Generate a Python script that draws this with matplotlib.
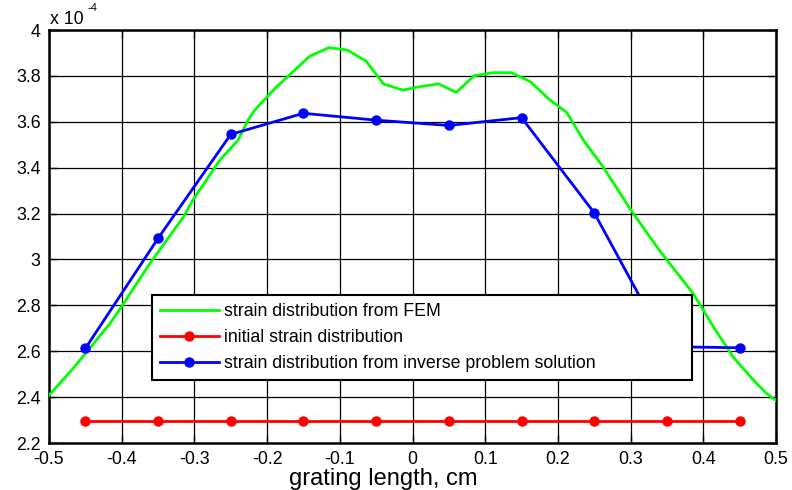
import numpy as np
import matplotlib
matplotlib.use("Agg")
import matplotlib.pyplot as plt
from matplotlib.ticker import FuncFormatter

plt.rcParams['font.family'] = ['Liberation Sans', 'DejaVu Sans']

SCALE = 1e-4

# FEM strain distribution (green)
fem_x = [-0.500, -0.469, -0.448, -0.416, -0.402, -0.361, -0.315, -0.302, -0.265, -0.240,
         -0.226, -0.217, -0.189, -0.141, -0.115, -0.090, -0.064, -0.040, -0.013, 0.010,
         0.036, 0.060, 0.085, 0.111, 0.136, 0.162, 0.189, 0.212, 0.235, 0.262,
         0.299, 0.336, 0.361, 0.386, 0.414, 0.441, 0.469, 0.487, 0.500]
fem_y = [2.408, 2.517, 2.597, 2.721, 2.786, 2.983, 3.186, 3.259, 3.433, 3.520,
         3.608, 3.651, 3.746, 3.887, 3.923, 3.913, 3.865, 3.765, 3.738, 3.753,
         3.765, 3.728, 3.801, 3.814, 3.814, 3.775, 3.695, 3.641, 3.520, 3.404,
         3.222, 3.055, 2.953, 2.852, 2.706, 2.575, 2.474, 2.416, 2.385]

# node positions
node_x = [-0.45, -0.35, -0.25, -0.15, -0.05, 0.05, 0.15, 0.25, 0.35, 0.45]
# initial strain distribution (red)
init_y = [2.295] * 10
# inverse problem solution (blue)
inv_y = [2.612, 3.092, 3.545, 3.637, 3.607, 3.584, 3.618, 3.203, 2.620, 2.615]

legend_labels = ["strain distribution from FEM",
                 "initial strain distribution",
                 "strain distribution from inverse problem solution"]

xticks = [-0.5, -0.4, -0.3, -0.2, -0.1, 0, 0.1, 0.2, 0.3, 0.4, 0.5]
yticks = [2.2, 2.4, 2.6, 2.8, 3.0, 3.2, 3.4, 3.6, 3.8, 4.0]

fig = plt.figure(figsize=(7.92, 4.90), dpi=100)
ax = fig.add_axes([49/792, 1-443/490, 727/792, 413/490])

ax.plot(fem_x, np.array(fem_y) * SCALE, color='#00ff00', lw=2, label=legend_labels[0], zorder=3)
ax.plot(node_x, np.array(init_y) * SCALE, color='#ff0000', lw=2, marker='o', ms=6.5,
        label=legend_labels[1], zorder=3)
ax.plot(node_x, np.array(inv_y) * SCALE, color='#0000ff', lw=2, marker='o', ms=6.5,
        label=legend_labels[2], zorder=3)

ax.set_xlim(-0.5, 0.5)
ax.set_ylim(2.2 * SCALE, 4.0 * SCALE)
ax.set_xticks(xticks)
ax.set_yticks(np.array(yticks) * SCALE)
ax.xaxis.set_major_formatter(FuncFormatter(lambda v, p: ('%g' % round(v, 3)) if abs(v) > 1e-9 else '0'))
ax.yaxis.set_major_formatter(FuncFormatter(lambda v, p: '%g' % round(v / SCALE, 3)))
ax.tick_params(direction='in', length=6, width=1, labelsize=12.8, colors='black',
               top=True, right=True, pad=6)
ax.grid(True, color='black', lw=0.9, ls='-', zorder=1)
ax.set_axisbelow(True)
for s in ax.spines.values():
    s.set_linewidth(1.8)
    s.set_color('black')

fig.text(50/792, 1-20/490, 'x 10', fontsize=12.8, ha='left', va='center')
fig.text(87/792, 1-8/490, '-4', fontsize=8, ha='left', va='center')

fig.text(383/792, 1-485/490, 'grating length, cm', fontsize=17, ha='center', va='baseline')

leg = ax.legend(loc='center', bbox_to_anchor=(152/792, 1-380/490, 540/792, 85/490),
                bbox_transform=fig.transFigure, mode='expand', fontsize=12.8,
                frameon=True, fancybox=False, framealpha=1, edgecolor='black',
                handlelength=3.3, handletextpad=0.3, labelspacing=0.5,
                borderpad=0.45, borderaxespad=0)
leg.get_frame().set_linewidth(1.5)
leg.set_zorder(5)

fig.savefig('out.png', dpi=100)
